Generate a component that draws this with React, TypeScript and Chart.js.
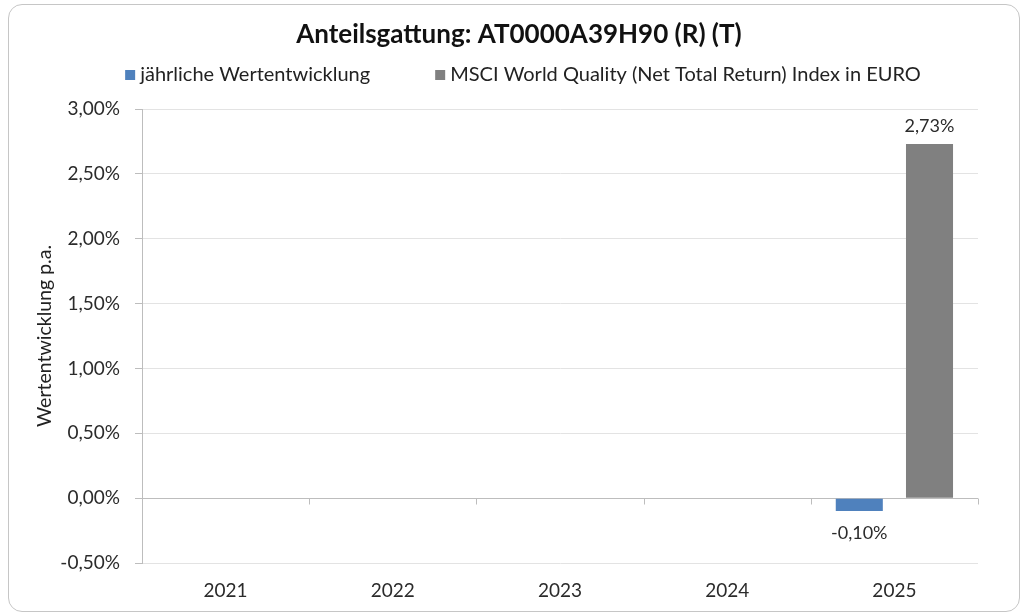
import React, { useEffect, useRef } from "react";
import { Chart, registerables } from "chart.js";

Chart.register(...registerables);

const FONT = "Lato, 'Open Sans', sans-serif";

const titleText = "Anteilsgattung: AT0000A39H90 (R) (T)";
const yAxisTitle = "Wertentwicklung p.a.";
const categories = ["2021", "2022", "2023", "2024", "2025"];
const seriesLabels = [
  "jährliche Wertentwicklung",
  "MSCI World Quality (Net Total Return) Index in EURO",
];
const fundReturns: (number | null)[] = [null, null, null, null, -0.1];
const indexReturns: (number | null)[] = [null, null, null, null, 2.73];
const seriesColors = ["#4F81BD", "#808080"];
const yTicks = [-0.5, 0, 0.5, 1, 1.5, 2, 2.5, 3];

const fmt = (v: number) => v.toFixed(2).replace(".", ",") + "%";

const zeroAxisPlugin = {
  id: "zeroAxis",
  beforeDatasetsDraw(chart: any) {
    const { ctx, chartArea, scales } = chart;
    const x = scales.x;
    const y = scales.y;
    const y0 = Math.round(y.getPixelForValue(0)) + 0.5;
    const step = x.getPixelForValue(1) - x.getPixelForValue(0);
    ctx.save();
    ctx.strokeStyle = "#bdbdbd";
    ctx.lineWidth = 1;
    ctx.beginPath();
    ctx.moveTo(chartArea.left, y0);
    ctx.lineTo(chartArea.right, y0);
    for (let i = 0; i < categories.length; i++) {
      const bx = Math.round(x.getPixelForValue(i) + step / 2) + 0.5;
      ctx.moveTo(bx, y0);
      ctx.lineTo(bx, y0 + 6);
    }
    ctx.stroke();
    ctx.restore();
  },
};

const valueLabelPlugin = {
  id: "valueLabels",
  afterDatasetsDraw(chart: any) {
    const { ctx } = chart;
    ctx.save();
    ctx.font = `18px ${FONT}`;
    ctx.fillStyle = "#2b2b2b";
    ctx.textAlign = "center";
    ctx.textBaseline = "middle";
    chart.data.datasets.forEach((ds: any, di: number) => {
      const meta = chart.getDatasetMeta(di);
      meta.data.forEach((bar: any, i: number) => {
        const v = ds.data[i];
        if (v === null || v === undefined) return;
        const p = bar.getProps(["x", "y"], true);
        ctx.fillText(fmt(v), p.x, v >= 0 ? p.y - 18 : p.y + 22);
      });
    });
    ctx.restore();
  },
};

const legendPlugin = {
  id: "customLegend",
  afterDraw(chart: any) {
    const { ctx } = chart;
    const tb = chart.titleBlock;
    const center = (tb.left + tb.right) / 2 + 4;
    const yMid = 75;
    const box = 10;
    const gapText = 5;
    const gapItem = 65;
    ctx.save();
    ctx.font = `20px ${FONT}`;
    const items = chart.data.datasets.map((ds: any) => ({
      text: ds.label,
      color: ds.backgroundColor,
      w: ctx.measureText(ds.label).width,
    }));
    const total =
      items.reduce((a: number, it: any) => a + box + gapText + it.w, 0) +
      gapItem * (items.length - 1);
    let x = center - total / 2;
    ctx.textBaseline = "middle";
    ctx.textAlign = "left";
    items.forEach((it: any) => {
      ctx.fillStyle = it.color;
      ctx.fillRect(x, yMid - box / 2, box, box);
      x += box + gapText;
      ctx.fillStyle = "#222222";
      ctx.fillText(it.text, x, yMid);
      x += it.w + gapItem;
    });
    ctx.restore();
  },
};

export default function App() {
  const canvasRef = useRef<HTMLCanvasElement | null>(null);

  useEffect(() => {
    if (!canvasRef.current) return;
    const chart = new Chart(canvasRef.current, {
      type: "bar",
      data: {
        labels: categories,
        datasets: [
          {
            label: seriesLabels[0],
            data: fundReturns,
            backgroundColor: seriesColors[0],
            categoryPercentage: 0.84,
            barPercentage: 0.67,
          },
          {
            label: seriesLabels[1],
            data: indexReturns,
            backgroundColor: seriesColors[1],
            categoryPercentage: 0.84,
            barPercentage: 0.67,
          },
        ],
      },
      plugins: [zeroAxisPlugin, valueLabelPlugin, legendPlugin],
      options: {
        responsive: false,
        animation: false,
        devicePixelRatio: 1,
        layout: { padding: { left: 14, right: 0, top: 0, bottom: 0 } },
        plugins: {
          legend: { display: false },
          tooltip: { enabled: false },
          title: {
            display: true,
            text: titleText,
            color: "#111111",
            font: { family: FONT, size: 26, weight: "bold" },
            padding: { top: 19.5, bottom: 58.3 },
          },
        },
        scales: {
          x: {
            grid: { display: false },
            border: { display: false },
            ticks: {
              color: "#2b2b2b",
              font: { family: FONT, size: 19 },
              padding: 8,
            },
            afterFit(s: any) {
              s.height = 53;
            },
          },
          y: {
            min: -0.5,
            max: 3,
            afterBuildTicks(s: any) {
              s.ticks = yTicks.map((v) => ({ value: v }));
            },
            grid: {
              color: "#e3e3e3",
              tickColor: "#bdbdbd",
              tickLength: 7,
            },
            border: { display: true, color: "#bdbdbd" },
            ticks: {
              color: "#2b2b2b",
              font: { family: FONT, size: 19 },
              padding: 15,
              callback: (v: any) => fmt(Number(v)),
            },
            title: {
              display: true,
              text: yAxisTitle,
              color: "#222222",
              font: { family: FONT, size: 19.5 },
              padding: { top: 18.8, bottom: 0 },
            },
            afterFit(s: any) {
              s.width = 128;
            },
          },
          yRight: {
            position: "right",
            display: true,
            grid: { display: false },
            border: { display: false },
            ticks: { display: false },
            afterFit(s: any) {
              s.width = 46;
            },
          },
        },
      } as any,
    });
    return () => chart.destroy();
  }, []);

  return (
    <div
      style={{
        position: "fixed",
        left: 0,
        top: 0,
        width: 1024,
        height: 616,
        background: "#ffffff",
        overflow: "hidden",
      }}
    >
      <div
        style={{
          position: "absolute",
          left: 8,
          top: 4,
          width: 1012,
          height: 608,
          boxSizing: "border-box",
          border: "1px solid #c6c6c6",
          borderRadius: 14,
        }}
      />
      <canvas
        ref={canvasRef}
        width={1024}
        height={616}
        style={{ position: "absolute", left: 0, top: 0, width: 1024, height: 616 }}
      />
    </div>
  );
}
